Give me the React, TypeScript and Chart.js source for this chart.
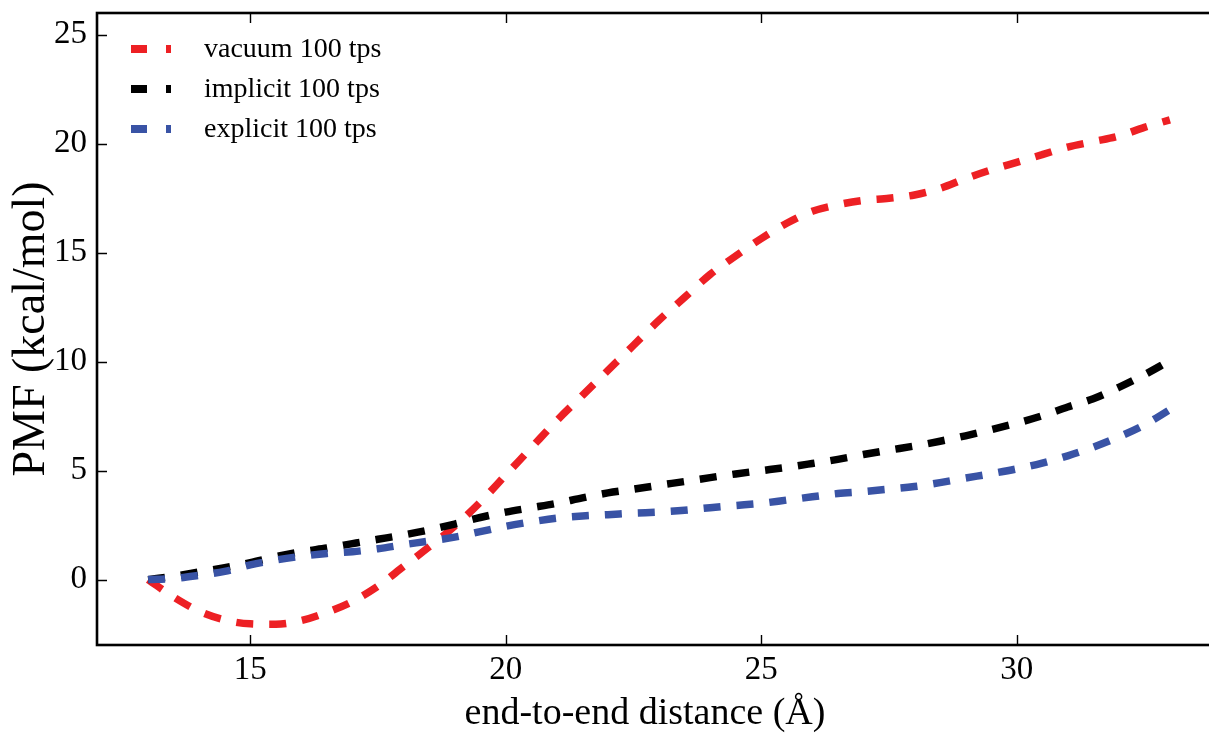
import React, { useEffect, useRef } from "react";
import { Chart, registerables } from "chart.js";

Chart.register(...registerables);

// End-to-end distance samples (Å)
const distances = [
  13, 13.5, 14, 14.5, 15, 15.5, 16, 16.5, 17, 17.5, 18, 18.5, 19, 19.5, 20, 20.5,
  21, 21.5, 22, 22.5, 23, 23.5, 24, 24.5, 25, 25.5, 26, 26.5, 27, 27.5, 28, 28.5,
  29, 29.5, 30, 30.5, 31, 31.5, 32, 32.5, 33,
];

// PMF (kcal/mol) for each environment
const vacuumPmf = [
  0, -0.8, -1.45, -1.85, -2.03, -2.05, -1.88, -1.5, -1.0, -0.3, 0.6, 1.5, 2.45, 3.55,
  4.8, 6.05, 7.3, 8.45, 9.6, 10.75, 11.9, 12.95, 14.0, 14.85, 15.65, 16.35, 16.9,
  17.2, 17.4, 17.5, 17.65, 17.95, 18.4, 18.8, 19.15, 19.5, 19.85, 20.1, 20.35, 20.75,
  21.1,
];
const implicitPmf = [
  0, 0.15, 0.35, 0.55, 0.78, 1.05, 1.28, 1.45, 1.65, 1.85, 2.05, 2.28, 2.55, 2.85,
  3.1, 3.3, 3.5, 3.75, 3.98, 4.15, 4.33, 4.5, 4.68, 4.85, 5.0, 5.15, 5.33, 5.52,
  5.74, 5.94, 6.13, 6.35, 6.6, 6.88, 7.18, 7.52, 7.92, 8.3, 8.82, 9.4, 10.05,
];
const explicitPmf = [
  0, 0.05, 0.2, 0.38, 0.68, 0.9, 1.07, 1.2, 1.28, 1.42, 1.6, 1.77, 1.95, 2.2, 2.45,
  2.65, 2.82, 2.92, 2.98, 3.05, 3.1, 3.18, 3.3, 3.4, 3.5, 3.65, 3.8, 3.95, 4.04,
  4.15, 4.27, 4.45, 4.66, 4.86, 5.08, 5.35, 5.68, 6.08, 6.55, 7.1, 7.8,
];

const seriesLabels = ["vacuum 100 tps", "implicit 100 tps", "explicit 100 tps"];
const seriesColors = ["#ED2024", "#000000", "#3953A5"];

const xTickValues = [15, 20, 25, 30];
const yTickValues = [0, 5, 10, 15, 20, 25];

const xTitle = "end-to-end distance (Å)";
const yTitle = "PMF (kcal/mol)";

const FONT = "'Liberation Serif', 'Times New Roman', serif";

// Box frame with inward ticks, axis titles and legend
const framePlugin = {
  id: "frameAndLegend",
  afterDraw(chart: any) {
    const { ctx, chartArea } = chart;
    const { left, right, top, bottom } = chartArea;
    const xs = chart.scales.x;
    const ys = chart.scales.y;
    ctx.save();

    // inward tick marks on all four sides
    ctx.strokeStyle = "#000";
    ctx.lineWidth = 1.4;
    ctx.setLineDash([]);
    const tl = 10;
    xTickValues.forEach((v) => {
      const px = Math.round(xs.getPixelForValue(v)) + 0.5;
      ctx.beginPath();
      ctx.moveTo(px, bottom);
      ctx.lineTo(px, bottom - tl);
      ctx.moveTo(px, top);
      ctx.lineTo(px, top + tl);
      ctx.stroke();
    });
    yTickValues.forEach((v) => {
      const py = Math.round(ys.getPixelForValue(v)) + 0.5;
      ctx.beginPath();
      ctx.moveTo(left, py);
      ctx.lineTo(left + tl, py);
      ctx.moveTo(right, py);
      ctx.lineTo(right - tl, py);
      ctx.stroke();
    });

    // frame
    ctx.lineWidth = 2.6;
    ctx.strokeRect(left, top, right - left, bottom - top);

    // axis titles
    ctx.fillStyle = "#000";
    ctx.font = `38px ${FONT}`;
    ctx.textAlign = "center";
    ctx.textBaseline = "alphabetic";
    ctx.fillText(xTitle, 645, 724);

    ctx.save();
    ctx.translate(44, (top + bottom) / 2);
    ctx.rotate(-Math.PI / 2);
    ctx.font = `46px ${FONT}`;
    ctx.fillText(yTitle, 0, 0);
    ctx.restore();

    // legend
    const rowY = [49, 89, 129];
    ctx.font = `28px ${FONT}`;
    ctx.textAlign = "left";
    ctx.textBaseline = "middle";
    seriesLabels.forEach((label, i) => {
      ctx.strokeStyle = seriesColors[i];
      ctx.lineWidth = 8;
      ctx.lineCap = "butt";
      ctx.setLineDash([16, 19]);
      ctx.beginPath();
      ctx.moveTo(131, rowY[i]);
      ctx.lineTo(171, rowY[i]);
      ctx.stroke();
      ctx.setLineDash([]);
      ctx.fillStyle = "#000";
      ctx.fillText(label, 204, rowY[i] + 1);
    });

    ctx.restore();
  },
};

export default function App() {
  const canvasRef = useRef<HTMLCanvasElement | null>(null);

  useEffect(() => {
    const canvas = canvasRef.current;
    if (!canvas) return;

    const makeSet = (label: string, data: number[], color: string, order: number) => ({
      label,
      data: distances.map((x, i) => ({ x, y: data[i] })),
      borderColor: color,
      backgroundColor: color,
      borderWidth: 7.5,
      borderDash: [17, 16],
      borderCapStyle: "butt" as const,
      pointRadius: 0,
      cubicInterpolationMode: "monotone" as const,
      fill: false,
      order,
    });

    const chart = new Chart(canvas, {
      type: "line",
      data: {
        datasets: [
          makeSet(seriesLabels[0], vacuumPmf, seriesColors[0], 3),
          makeSet(seriesLabels[1], implicitPmf, seriesColors[1], 2),
          makeSet(seriesLabels[2], explicitPmf, seriesColors[2], 1),
        ],
      },
      options: {
        responsive: false,
        animation: false,
        devicePixelRatio: 1,
        layout: { padding: { top: 13, right: 19, left: 0, bottom: 0 } },
        plugins: {
          legend: { display: false },
          tooltip: { enabled: false },
        },
        scales: {
          x: {
            type: "linear",
            min: 12,
            max: 34,
            grid: { display: false, drawTicks: false },
            border: { display: false },
            afterBuildTicks: (axis: any) => {
              axis.ticks = xTickValues.map((value) => ({ value }));
            },
            afterFit: (axis: any) => {
              axis.height = 89;
              axis.paddingLeft = 0;
              axis.paddingRight = 0;
            },
            ticks: {
              color: "#000",
              padding: 6,
              maxRotation: 0,
              font: { family: FONT, size: 33 },
            },
          },
          y: {
            type: "linear",
            min: -3,
            max: 26,
            grid: { display: false, drawTicks: false },
            border: { display: false },
            afterBuildTicks: (axis: any) => {
              axis.ticks = yTickValues.map((value) => ({ value }));
            },
            afterFit: (axis: any) => {
              axis.width = 97;
              axis.paddingTop = 0;
              axis.paddingBottom = 0;
            },
            ticks: {
              color: "#000",
              padding: 10,
              font: { family: FONT, size: 33 },
            },
          },
        },
      },
      plugins: [framePlugin],
    });

    return () => chart.destroy();
  }, []);

  return (
    <div
      style={{
        position: "fixed",
        left: 0,
        top: 0,
        width: 1209,
        height: 734,
        overflow: "hidden",
        background: "#fff",
      }}
    >
      <canvas ref={canvasRef} width={1240} height={734} style={{ display: "block" }} />
    </div>
  );
}
